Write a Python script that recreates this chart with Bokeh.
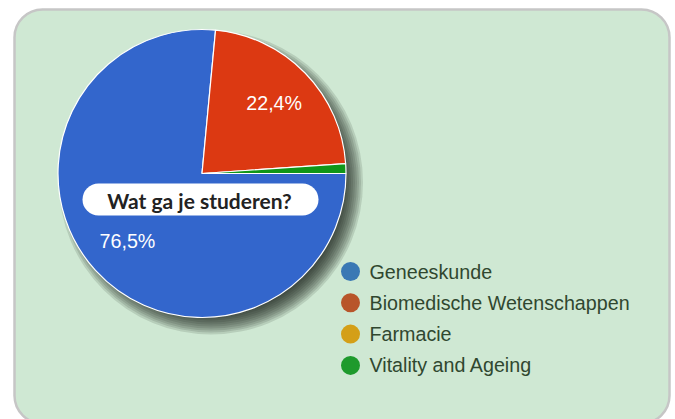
import numpy as np
from bokeh.plotting import figure
from bokeh.models import Range1d, ColumnDataSource
from bokeh.core.properties import value
from bokeh.embed import file_html
from bokeh.resources import INLINE

# ---- data ----
categories = ["Geneeskunde", "Biomedische Wetenschappen", "Farmacie", "Vitality and Ageing"]
percentages = [76.5, 22.4, 0.0, 1.1]
label_texts = ["76,5%", "22,4%", "", ""]
slice_colors = ["#3366cc", "#dc3912", "#ff9900", "#109618"]
legend_colors = ["#3a78b4", "#b8552a", "#d49f17", "#1e9a2c"]
title_text = "Wat ga je studeren?"

W, H = 675, 419
PAGE_H = 419


def sy(y):
    """screen y (px from top of window) -> data y"""
    return PAGE_H - y


p = figure(width=W, height=H, output_backend="svg", toolbar_location=None,
           x_range=Range1d(0, W), y_range=Range1d(0, H),
           min_border=0, x_axis_location=None, y_axis_location=None)
p.grid.visible = False
p.outline_line_color = None
p.background_fill_color = "white"
p.border_fill_color = "white"

# background rounded box
p.quad(left=14, right=669, top=sy(9), bottom=sy(423), fill_color="#cfe8d3",
       line_color="#c6c6c6", line_width=2.5, border_radius=28)

cx, cy, r = 201.5, sy(173), 144

# shadow (layered translucent circles, offset to bottom-right)
for rr in np.arange(134, 153, 2):
    p.circle(x=cx + 9, y=cy - 9, radius=rr, fill_color="#1a1e1a", fill_alpha=0.13,
             line_color=None)

# pie slices: start at 3 o'clock going clockwise
vals = np.array(percentages) / sum(percentages)
cum = np.concatenate([[0], np.cumsum(vals)])
starts = -cum[:-1] * 2 * np.pi
ends = -cum[1:] * 2 * np.pi
mask = vals > 0
src = ColumnDataSource(dict(
    start=ends[mask], end=starts[mask],
    color=[c for c, m in zip(slice_colors, mask) if m],
))
p.wedge(x=cx, y=cy, radius=r, start_angle="start", end_angle="end",
        direction="anticlock", fill_color="color", line_color="white",
        line_width=1.2, source=src)

# percentage labels
mid = (starts + ends) / 2
lr = 0.7 * r
lab_src = ColumnDataSource(dict(
    x=[cx + lr * np.cos(a) for a, t in zip(mid, label_texts) if t],
    y=[cy + lr * np.sin(a) for a, t in zip(mid, label_texts) if t],
    t=[t for t in label_texts if t],
))
p.text(x="x", y="y", text="t", source=lab_src, text_color="white",
       text_font=value("Liberation Sans"), text_font_size="19.7px",
       text_align="center", text_baseline="middle")

# title pill
p.quad(left=82, right=318, top=sy(183), bottom=sy(215), fill_color="white",
       line_color=None, border_radius=16)
p.text(x=[199], y=[sy(200)], text=[title_text], text_color="#222222",
       text_font=value("Lato"), text_font_style="bold", text_font_size="21px",
       text_align="center", text_baseline="middle")

# legend
lx, ly0, dy = 350, 271, 31.3
leg_y = [sy(ly0 + i * dy) for i in range(len(categories))]
p.scatter(x=[lx] * len(categories), y=leg_y, size=19, marker="circle",
          fill_color=legend_colors, line_color=None)
p.text(x=[lx + 19] * len(categories), y=leg_y, text=categories,
       text_color="#30472f", text_font=value("Liberation Sans"),
       text_font_size="19.7px", text_align="left", text_baseline="middle")

open("out.html", "w").write(file_html(p, INLINE))
